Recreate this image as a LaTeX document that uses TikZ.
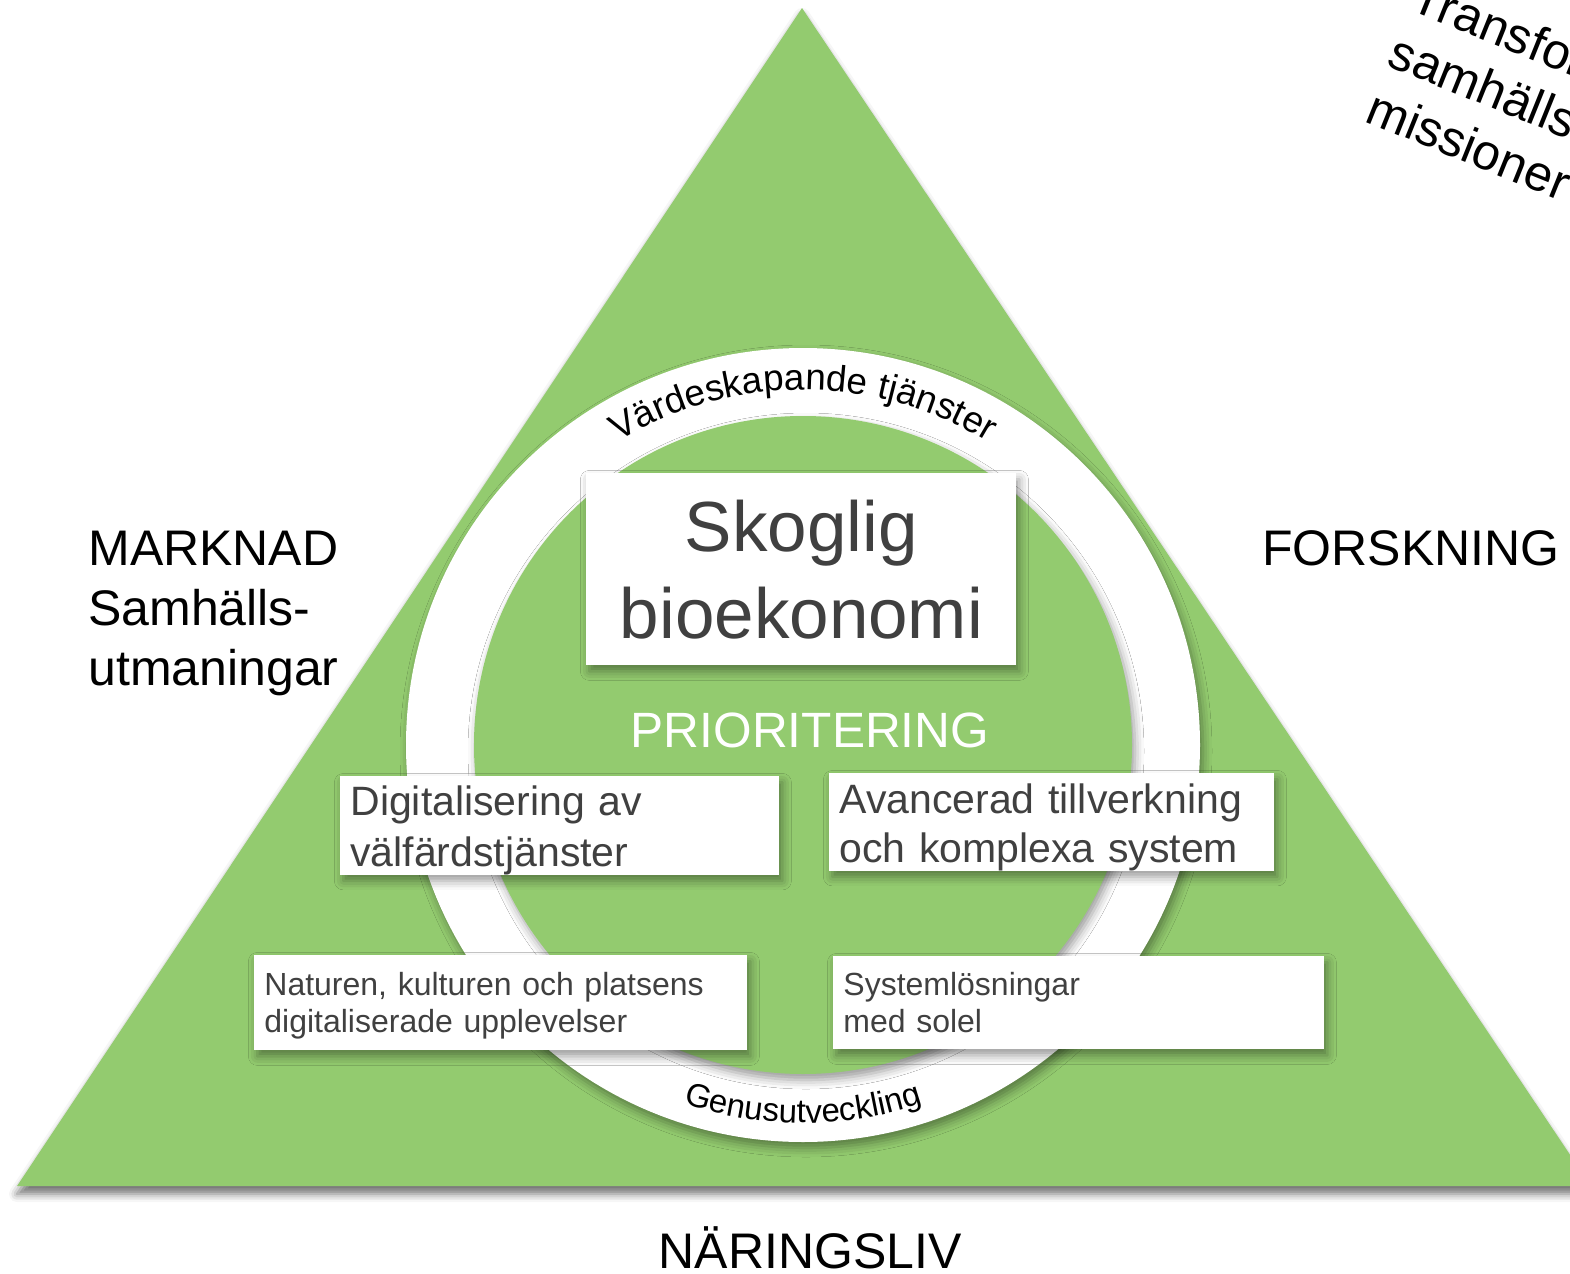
\documentclass[tikz,border=0pt]{standalone}
\usepackage{fontspec}
\setmainfont{Liberation Sans}
\usepackage{xcolor}
\usetikzlibrary{positioning,calc,decorations.text,shadows.blur}

\definecolor{lovgron}{RGB}{147,203,111}
\definecolor{textgra}{RGB}{64,64,64}

\begin{document}
\begin{tikzpicture}[x=0.5pt, y=0.5pt,
    skugga/.style={blur shadow={shadow xshift=1.5pt, shadow yshift=-3pt, shadow blur radius=4.5pt, shadow opacity=40}},
    ruta/.style={fill=white, skugga, text=textgra, align=left, anchor=north west, inner xsep=5pt, inner ysep=0pt},
    etikett/.style={text=black, font=\fontsize{25}{30}\selectfont, inner sep=0pt}]
    \clip (0,0) rectangle (1570,-1274);

    % triangeln
    \fill[lovgron, blur shadow={shadow xshift=0pt, shadow yshift=-4pt, shadow blur radius=4pt, shadow opacity=55}]
        (802,-8) -- (17,-1186) -- (1591,-1186) -- cycle;

    % ringen
    \coordinate (mitt) at (803,-745);
    \fill[white, skugga] (mitt) circle[radius=198.5pt];
    \fill[lovgron, skugga] (mitt) circle[radius=164.5pt];

    % text längs ringen
    \path[decorate, decoration={text along path, text align=center,
        text={|\fontsize{18.4}{18}\selectfont|Värdeskapande tjänster}}]
        ($(mitt)+(122:177.5pt)$) arc[start angle=122, end angle=58, radius=177.5pt];
    \path[decorate, decoration={text along path, text align=center,
        text={|\fontsize{16.5}{16.5}\selectfont|Genusutveckling}}]
        ($(mitt)+(240:189pt)$) arc[start angle=240, end angle=300, radius=189pt];

    % mitten
    \node (skog) [ruta, align=center, minimum width=215pt, minimum height=96pt,
        font=\fontsize{35.5}{43.5}\selectfont] at (586,-473) {Skoglig\\bioekonomi};
    \node (prio) [text=white, font=\fontsize{24.8}{24}\selectfont, inner sep=0pt] at (810,-730) {PRIORITERING};

    % prioriteringar
    \node (digi) [ruta, text width=209.5pt, font=\fontsize{20.5}{25.5}\selectfont]
        at (340,-776) {\rule{0pt}{19.5pt}Digitalisering av\\välfärdstjänster\rule[-3pt]{0pt}{3pt}};
    \node (avan) [ruta, text width=212.5pt, font=\fontsize{20.5}{24.5}\selectfont]
        at (829,-773) {\rule{0pt}{20pt}Avancerad tillverkning\\och komplexa system\rule[-3.5pt]{0pt}{3.5pt}};
    \node (natur) [ruta, text width=236.5pt, font=\fontsize{16}{18.5}\selectfont]
        at (254,-955) {\rule{0pt}{20pt}Naturen, kulturen och platsens\\digitaliserade upplevelser\rule[-9pt]{0pt}{9pt}};
    \node (solel) [ruta, text width=235.5pt, font=\fontsize{16}{18.5}\selectfont]
        at (833,-956) {\rule{0pt}{19.5pt}Systemlösningar\\med solel\rule[-8.5pt]{0pt}{8.5pt}};

    % hörnen
    \node (marknad) [etikett, align=left, anchor=base west] at (88,-685) {MARKNAD\\Samhälls-\\utmaningar};
    \node (forskning) [etikett, anchor=base west] at (1262,-565) {FORSKNING};
    \node (naring) [etikett, anchor=base] at (810,-1268) {NÄRINGSLIV};
    \node (mission) [etikett, align=left, anchor=base west, rotate=-22] at (1363,-121)
        {Transformativa\\samhällsutmaningar\\missioner};
\end{tikzpicture}
\end{document}
